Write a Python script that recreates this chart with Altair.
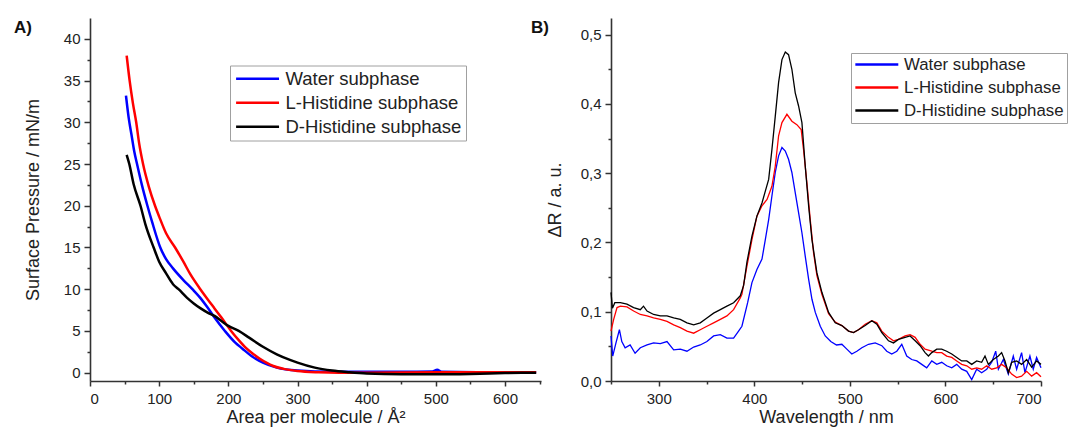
import altair as alt
import pandas as pd

series_names = ["Water subphase", "L-Histidine subphase", "D-Histidine subphase"]
series_colors = ["#0000ff", "#ff0000", "#000000"]
panel_labels = ["A)", "B)"]

# ---------------- Panel A: isotherms ----------------
a_water_x = [52, 56, 60, 64, 68, 75, 83, 90, 101.6, 110, 120, 135, 148, 160, 170, 180, 195, 210, 220,
             235, 250, 270, 300, 350, 400, 450, 495, 502, 508, 560, 600, 645]
a_water_y = [33.2, 30.5, 28.5, 26.5, 25.0, 22.5, 20.0, 18.0, 15.0, 13.6, 12.5, 11.1, 10.0, 8.9, 7.8, 6.6,
             5.0, 3.6, 2.9, 1.9, 1.2, 0.6, 0.25, 0.1, 0.1, 0.1, 0.15, 0.35, 0.1, 0.05, 0.05, 0.05]

a_lhis_x = [53, 57.3, 62, 66.8, 71, 76.7, 85, 94, 100, 110, 123, 135, 145, 159.5, 170, 180, 190, 204,
            215, 225, 235, 245, 255, 265, 280, 300, 330, 360, 400, 500, 600, 645]
a_lhis_y = [38.0, 35.0, 32.3, 30.0, 27.5, 25.0, 22.3, 20.0, 18.7, 16.7, 15.0, 13.3, 11.8, 10.0, 8.8, 7.7,
            6.6, 5.0, 3.9, 3.0, 2.3, 1.7, 1.2, 0.8, 0.45, 0.2, 0.05, 0.0, 0.0, 0.05, 0.05, 0.05]

a_dhis_x = [53, 56.8, 63, 73, 80, 92, 100, 110, 120, 128, 140, 150, 160, 170, 180, 190, 200, 215, 230,
            250, 270, 290, 300, 325, 350, 375, 400, 450, 500, 550, 600, 645]
a_dhis_y = [26.1, 25.0, 22.6, 20.0, 17.8, 15.0, 13.3, 11.9, 10.6, 10.0, 9.0, 8.3, 7.7, 7.2, 6.8, 6.2,
            5.6, 5.0, 4.2, 3.1, 2.2, 1.5, 1.2, 0.6, 0.25, 0.05, -0.1, -0.2, -0.2, -0.15, -0.05, 0.0]

# ---------------- Panel B: reflection spectra ----------------
b_water_x = [250, 251.8, 255.2, 258.8, 261.3, 264.8, 270, 275.2, 280.7, 287.7, 294.6, 301.6, 308.6, 315.6,
             322.5, 329.5, 336.5, 343.4, 350.4, 357.4, 364.4, 371.3, 378.3, 383.5, 387, 393, 397.5, 402.7,
             408, 411.5, 415, 418.4, 421.9, 425.4, 428.9, 432.4, 435.8, 439.3, 442.8, 446.3, 449.8, 453.3,
             456.8, 460.3, 463.8, 469, 474.2, 480, 486, 491.6, 496.8, 502, 507.3, 512.5, 519.5, 526.5,
             533.4, 538.6, 543.8, 549.1, 554.3, 559.5, 564.7, 570, 575.2, 580.4, 585.7, 590.9, 596.1,
             601.3, 606.6, 611.8, 617, 622.3, 627.5, 632.7, 637.9, 643.2, 648.4, 652.6, 655.4, 660.6,
             665.8, 671, 674.5, 679.7, 683.2, 688.4, 691.9, 695.4, 700]
b_water_y = [0.065, 0.036, 0.055, 0.074, 0.057, 0.048, 0.052, 0.040, 0.048, 0.052, 0.055, 0.054, 0.057,
             0.045, 0.046, 0.043, 0.049, 0.052, 0.057, 0.065, 0.067, 0.062, 0.062, 0.072, 0.079, 0.113,
             0.142, 0.161, 0.176, 0.204, 0.233, 0.267, 0.301, 0.325, 0.337, 0.332, 0.320, 0.301, 0.272,
             0.243, 0.214, 0.180, 0.147, 0.118, 0.099, 0.079, 0.065, 0.057, 0.052, 0.053, 0.046, 0.039,
             0.043, 0.048, 0.053, 0.055, 0.051, 0.043, 0.039, 0.043, 0.053, 0.036, 0.031, 0.029, 0.024,
             0.019, 0.029, 0.024, 0.027, 0.022, 0.019, 0.024, 0.017, 0.014, 0.002, 0.017, 0.012, 0.017,
             0.027, 0.043, 0.017, 0.031, 0.010, 0.036, 0.017, 0.041, 0.012, 0.036, 0.017, 0.034, 0.019]

b_lhis_x = [250, 252.8, 256.3, 259.8, 266.7, 273.7, 280.7, 287.7, 294.6, 301.6, 308.6, 315.6, 322.5,
            329.5, 336.5, 343.4, 350.4, 357.4, 364.4, 371.3, 378.3, 385.3, 387, 392.3, 397.5, 402.7, 408,
            413.3, 418.4, 421.9, 425.4, 428.9, 434.1, 439.3, 444.5, 449, 451.5, 455, 458.5, 462, 465.5,
            470.7, 477.7, 484.7, 491.6, 498.6, 503.8, 509, 516, 523, 528.2, 533.4, 540.4, 545.6, 550.8,
            557.8, 563, 568.3, 573.5, 578.7, 585.7, 590.9, 596.1, 601.3, 606.6, 611.8, 617, 622.3, 627.5,
            632.7, 637.9, 643.2, 648.4, 653.6, 658.8, 664, 669.3, 674.5, 679.7, 685, 690.2, 695.4, 700]
b_lhis_y = [0.072, 0.089, 0.106, 0.108, 0.107, 0.101, 0.096, 0.094, 0.091, 0.089, 0.086, 0.081, 0.077,
            0.072, 0.069, 0.074, 0.079, 0.084, 0.089, 0.094, 0.103, 0.120, 0.125, 0.166, 0.204, 0.238,
            0.253, 0.262, 0.281, 0.310, 0.354, 0.373, 0.385, 0.375, 0.370, 0.363, 0.334, 0.286, 0.233,
            0.185, 0.152, 0.125, 0.097, 0.085, 0.080, 0.072, 0.070, 0.074, 0.082, 0.087, 0.084, 0.072,
            0.063, 0.058, 0.060, 0.065, 0.067, 0.063, 0.053, 0.046, 0.043, 0.041, 0.041, 0.036, 0.034,
            0.029, 0.024, 0.022, 0.017, 0.019, 0.017, 0.022, 0.017, 0.019, 0.024, 0.019, 0.010, 0.005,
            0.007, 0.014, 0.007, 0.012, 0.006]

b_dhis_x = [250, 251.5, 254, 259.8, 266.7, 273.7, 280.7, 284, 287.7, 294.6, 301.6, 308.6, 315.6, 322.5,
            329.5, 336.5, 343.4, 350.4, 357.4, 364.4, 371.3, 378.3, 385.3, 388.8, 392.3, 397.5, 402.7, 408,
            411.5, 415, 418.4, 421.9, 425.4, 428.9, 432.4, 435.8, 439.3, 442.8, 446.3, 449.8, 453.3, 456.8,
            460.3, 465.5, 470.7, 477.7, 484.7, 491.6, 498.6, 503.8, 509, 516, 523, 528.2, 533.4, 540.4,
            545.6, 550.8, 557.8, 563, 568.3, 573.5, 578.7, 582.2, 585.7, 590.9, 596.1, 601.3, 606.6,
            611.8, 617, 622.3, 627.5, 632.7, 637.9, 641.4, 644.9, 650.1, 655.4, 658.8, 662.3, 665.8,
            669.3, 674.5, 679.7, 685, 690.2, 695.4, 700]
b_dhis_y = [0.128, 0.105, 0.113, 0.113, 0.111, 0.106, 0.103, 0.108, 0.101, 0.096, 0.094, 0.094, 0.091,
            0.089, 0.084, 0.081, 0.084, 0.091, 0.098, 0.103, 0.108, 0.113, 0.123, 0.138, 0.172, 0.209,
            0.238, 0.257, 0.274, 0.291, 0.334, 0.382, 0.431, 0.464, 0.475, 0.471, 0.450, 0.416, 0.397,
            0.373, 0.310, 0.253, 0.204, 0.156, 0.128, 0.099, 0.084, 0.080, 0.072, 0.070, 0.074, 0.080,
            0.087, 0.082, 0.070, 0.058, 0.055, 0.060, 0.063, 0.065, 0.058, 0.051, 0.041, 0.036, 0.041,
            0.046, 0.046, 0.043, 0.039, 0.034, 0.029, 0.029, 0.024, 0.029, 0.027, 0.036, 0.024, 0.031,
            0.036, 0.041, 0.029, 0.012, 0.027, 0.029, 0.024, 0.031, 0.020, 0.029, 0.024]

# axis tick values
a_x_major = [0, 100, 200, 300, 400, 500, 600]
a_x_minor = [50, 150, 250, 350, 450, 550, 650]
a_y_major = [0, 5, 10, 15, 20, 25, 30, 35, 40]
a_y_minor = [2.5, 7.5, 12.5, 17.5, 22.5, 27.5, 32.5, 37.5]
b_x_major = [300, 400, 500, 600, 700]
b_x_minor = [250, 350, 450, 550, 650]
b_y_major = [0.0, 0.1, 0.2, 0.3, 0.4, 0.5]
b_y_minor = [0.05, 0.15, 0.25, 0.35, 0.45]

FONT = "Liberation Sans"


def long_df(xs_list, ys_list):
    rows = []
    for name, xs, ys in zip(series_names, xs_list, ys_list):
        for x, y in zip(xs, ys):
            rows.append({"x": x, "y": y, "series": name})
    return pd.DataFrame(rows)


df_a = long_df([a_water_x, a_lhis_x, a_dhis_x], [a_water_y, a_lhis_y, a_dhis_y])
df_b = long_df([b_water_x, b_lhis_x, b_dhis_x], [b_water_y, b_lhis_y, b_dhis_y])

comma_expr = "replace(format(datum.value, '.1f'), '.', ',')"


def make_panel(df, label, label_x, xdom, ydom, xmaj, xmin, ymaj, ymin, xtitle, ytitle, ylabel_expr,
               ytitle_pad, stroke_w, legend_x, legend_y, legend_font, legend_pad, width, height, interp):
    xs = alt.Scale(domain=xdom, nice=False, zero=False)
    ys = alt.Scale(domain=ydom, nice=False, zero=False)
    yaxis_kwargs = dict(values=ymaj, title=ytitle, orient="left", tickSize=6, labelPadding=4,
                        titlePadding=ytitle_pad, grid=False)
    if ylabel_expr:
        yaxis_kwargs["labelExpr"] = ylabel_expr
    lines = alt.Chart(df).mark_line(strokeWidth=stroke_w, interpolate=interp).encode(
        x=alt.X("x:Q", scale=xs,
                axis=alt.Axis(values=xmaj, title=xtitle, orient="bottom", tickSize=5,
                              labelPadding=5, titlePadding=2, grid=False)),
        y=alt.Y("y:Q", scale=ys, axis=alt.Axis(**yaxis_kwargs)),
        color=alt.Color(
            "series:N",
            scale=alt.Scale(domain=series_names, range=series_colors),
            legend=alt.Legend(
                title=None, orient="none", legendX=legend_x, legendY=legend_y,
                symbolType="M-1,0H5", symbolSize=205, symbolStrokeWidth=2.5,
                labelFont=FONT, labelFontSize=legend_font, labelColor="#222222",
                labelOffset=33, rowPadding=5, padding=legend_pad, labelLimit=400,
                strokeColor="#a0a0a0", fillColor="#ffffff",
            ),
        ),
    )
    minor = alt.Chart(df).mark_point(opacity=0).encode(
        x=alt.X("x:Q", scale=xs,
                axis=alt.Axis(values=xmin, labels=False, title=None, domain=False,
                              orient="bottom", tickSize=3, grid=False)),
        y=alt.Y("y:Q", scale=ys,
                axis=alt.Axis(values=ymin, labels=False, title=None, domain=False,
                              orient="left", tickSize=3, grid=False)),
    )
    lab = alt.Chart(pd.DataFrame({"t": [label]})).mark_text(
        align="left", baseline="alphabetic", font=FONT, fontSize=17, fontWeight="bold",
        color="#111111",
    ).encode(x=alt.value(label_x), y=alt.value(14.5), text="t:N")
    return alt.layer(lines, minor, lab).resolve_scale(x="independent", y="independent").properties(
        width=width, height=height)


panel_a = make_panel(df_a, panel_labels[0], -76, [0, 652], [-1, 42.5], a_x_major, a_x_minor,
                     a_y_major, a_y_minor, "Area per molecule / Å²", "Surface Pressure / mN/m",
                     None, 21, 2.5, 140, 47.5, 18.5, 4, 451, 363, "monotone")
panel_b = make_panel(df_b, panel_labels[1], -80, [250, 700], [0, 0.524], b_x_major, b_x_minor,
                     b_y_major, b_y_minor, "Wavelength / nm", "ΔR / a. u.",
                     comma_expr, 16, 1.3, 240, 35, 16.8, 3, 430, 363, "linear")

chart = alt.hconcat(panel_a, panel_b, spacing=70, bounds="flush").resolve_scale(
    color="independent").resolve_legend(color="independent").properties(
    padding={"left": 5, "top": 9, "right": 0, "bottom": 0}
).configure_view(stroke="transparent").configure_axis(
    labelFont=FONT, labelFontSize=15, labelColor="#222222",
    titleFont=FONT, titleFontSize=18, titleFontWeight="normal", titleColor="#222222",
    domainColor="#333333", domainWidth=1.6, tickColor="#333333", tickWidth=1.5,
)

chart.save("out.html", embed_options={"renderer": "svg", "actions": False})
